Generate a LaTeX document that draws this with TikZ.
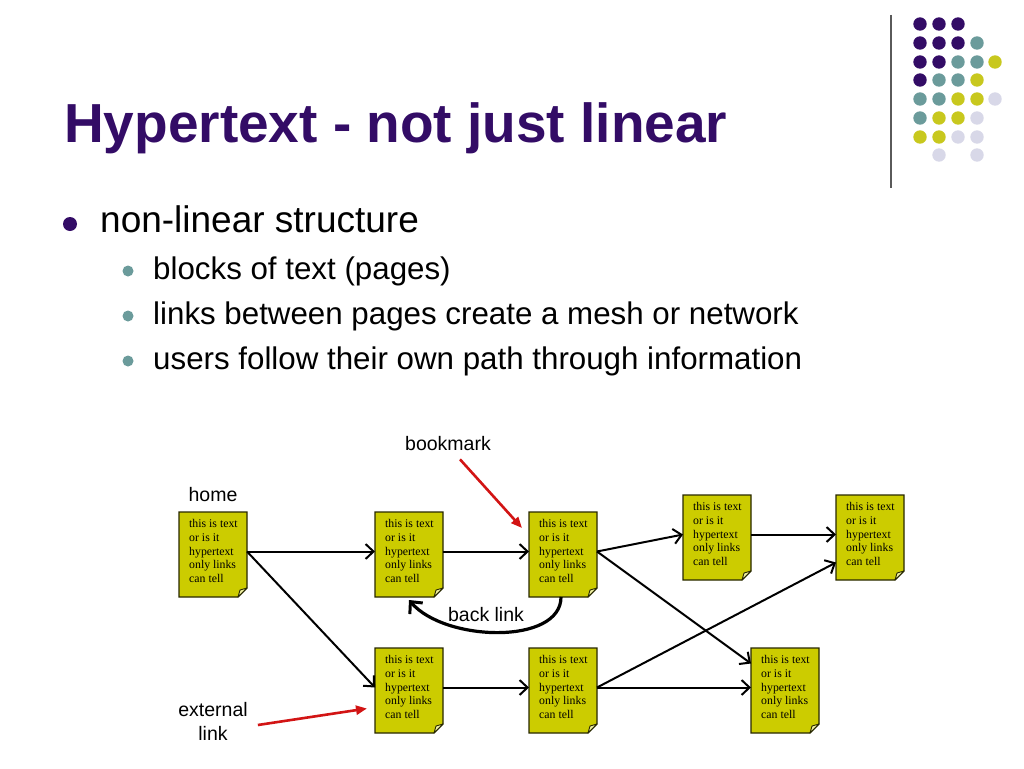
\documentclass[tikz,border=0pt]{standalone}
\usepackage{fontspec}
\setmainfont{Liberation Sans}
\newfontfamily\serifpage{Liberation Serif}
\usetikzlibrary{arrows.meta}
\definecolor{titlepurple}{RGB}{51,12,102}
\definecolor{dotteal}{RGB}{107,155,155}
\definecolor{dotyellow}{RGB}{200,200,30}
\definecolor{dotlav}{RGB}{216,216,232}
\definecolor{pageyellow}{RGB}{204,204,0}
\definecolor{pageborder}{RGB}{40,40,0}
\definecolor{flapyellow}{RGB}{240,240,160}
\definecolor{redarrow}{RGB}{210,20,20}
\definecolor{rulegrey}{RGB}{90,90,90}
\newcommand\pagenode[3]{%
  \node[pagebox, anchor=north west] (#1) at (#2,#3) {};
  \path[pageline] (#1.north west) -- (#1.north east) -- ([yshift=9pt]#1.south east)
     -- ([xshift=-9pt]#1.south east) -- (#1.south west) -- cycle;
  \path[flap] ([yshift=9pt]#1.south east) -- ([shift={(-7pt,7pt)}]#1.south east)
     -- ([xshift=-9pt]#1.south east) -- cycle;
  \node[pagetext] (#1t) at ([shift={(10pt,-7.5pt)}]#1.north west)
     {this is text\\or is it\\hypertext\\only links\\can tell};
}
\begin{document}
\begin{tikzpicture}[x=1pt,y=-1pt,
  pagebox/.style={minimum width=68pt, minimum height=85pt, inner sep=0pt, outer sep=0pt},
  pageline/.style={draw=pageborder, fill=pageyellow, line width=1.3pt},
  flap/.style={fill=flapyellow, draw=pageborder, line width=0.9pt, line join=round},
  pagetext/.style={font=\serifpage\fontsize{11.8}{13.7}\selectfont, align=left, inner sep=0pt, anchor=north west},
  link/.style={draw=black, line width=2pt, -{Straight Barb[length=8pt,width=15pt,line width=2pt]}},
  backlink/.style={draw=black, line width=3.2pt, -{Straight Barb[length=9pt,width=17pt,line width=3pt]}},
  redlink/.style={draw=redarrow, line width=2.6pt, -{Triangle[length=11pt,width=9pt]}},
  lbl/.style={font=\fontsize{19.5}{23}\selectfont, inner sep=0pt, align=center},
  dotp/.style={fill=titlepurple}, dott/.style={fill=dotteal},
  doty/.style={fill=dotyellow}, dotl/.style={fill=dotlav}
]
\useasboundingbox[fill=white] (0,0) rectangle (1024,768);

% decoration: rule and dots
\draw[rulegrey, line width=1.5pt] (891,15) -- (891,188);
\foreach \c/\cl in {920/dotp,939/dotp,958/dotp} \fill[\cl] (\c,24) circle (6.7);
\foreach \c/\cl in {920/dotp,939/dotp,958/dotp,977/dott} \fill[\cl] (\c,43) circle (6.7);
\foreach \c/\cl in {920/dotp,939/dotp,958/dott,977/dott,995/doty} \fill[\cl] (\c,62) circle (6.7);
\foreach \c/\cl in {920/dotp,939/dott,958/dott,977/doty} \fill[\cl] (\c,80) circle (6.7);
\foreach \c/\cl in {920/dott,939/dott,958/doty,977/doty,995/dotl} \fill[\cl] (\c,99) circle (6.7);
\foreach \c/\cl in {920/dott,939/doty,958/doty,977/dotl} \fill[\cl] (\c,118) circle (6.7);
\foreach \c/\cl in {920/doty,939/doty,958/dotl,977/dotl} \fill[\cl] (\c,137) circle (6.7);
\foreach \c/\cl in {939/dotl,977/dotl} \fill[\cl] (\c,155) circle (6.7);

% title
\node[anchor=base west, inner sep=0pt, text=titlepurple, font=\bfseries\fontsize{55}{60}\selectfont] (title) at (64,142) {Hypertext - not just linear};

% bullets
\fill[titlepurple] (70,224) circle (7);
\node[anchor=base west, inner sep=0pt, font=\fontsize{37}{42}\selectfont] (b1) at (100,232) {non-linear structure};
\fill[dotteal] (128,271) circle (5.5);
\node[anchor=base west, inner sep=0pt, font=\fontsize{31.3}{36}\selectfont] (s1) at (153,279) {blocks of text (pages)};
\fill[dotteal] (128,316) circle (5.5);
\node[anchor=base west, inner sep=0pt, font=\fontsize{31.3}{36}\selectfont] (s2) at (153,324) {links between pages create a mesh or network};
\fill[dotteal] (128,361) circle (5.5);
\node[anchor=base west, inner sep=0pt, font=\fontsize{31.3}{36}\selectfont] (s3) at (153,369) {users follow their own path through information};

% pages
\pagenode{home}{179}{512}
\pagenode{b2}{375}{512}
\pagenode{b3}{529}{512}
\pagenode{b4}{683}{495}
\pagenode{b5}{836}{495}
\pagenode{b6}{375}{648}
\pagenode{b7}{529}{648}
\pagenode{b8}{751}{648}

% links
\draw[link] ([yshift=3pt]home.east) -- ([yshift=3pt]b2.west);
\draw[link] ([yshift=3pt]home.east) -- ([yshift=3pt]b6.west);
\draw[link] ([yshift=3pt]b2.east) -- ([yshift=3pt]b3.west);
\draw[link] ([yshift=3pt]b3.east) -- ([yshift=3pt]b4.west);
\draw[link] ([yshift=3pt]b3.east) -- ([yshift=27pt]b8.west);
\draw[link] ([yshift=3pt]b4.east) -- ([yshift=3pt]b5.west);
\draw[link] ([yshift=3pt]b6.east) -- ([yshift=3pt]b7.west);
\draw[link] ([yshift=3pt]b7.east) -- ([yshift=3pt]b8.west);
\draw[link] ([yshift=3pt]b7.east) -- ([yshift=-25pt]b5.west);
\draw[backlink] ([xshift=-2pt]b3.south) .. controls (561,645) and (445,642) .. ([yshift=-3pt]b2.south);

% labels
\node[lbl] (homel) at (213,495) {home};
\node[lbl] (bml) at (448,444) {bookmark};
\node[lbl] (backl) at (486,615) {back link};
\node[lbl, font=\fontsize{19.5}{24}\selectfont] (extl) at (213,721) {external\\link};
\draw[redlink] ([shift={(12pt,-8pt)}]bml.south) -- ([shift={(-7pt,-16pt)}]b3.north west);
\draw[redlink] ([shift={(10pt,-4pt)}]extl.east) -- ([shift={(-8pt,-18pt)}]b6.west);
\end{tikzpicture}
\end{document}
